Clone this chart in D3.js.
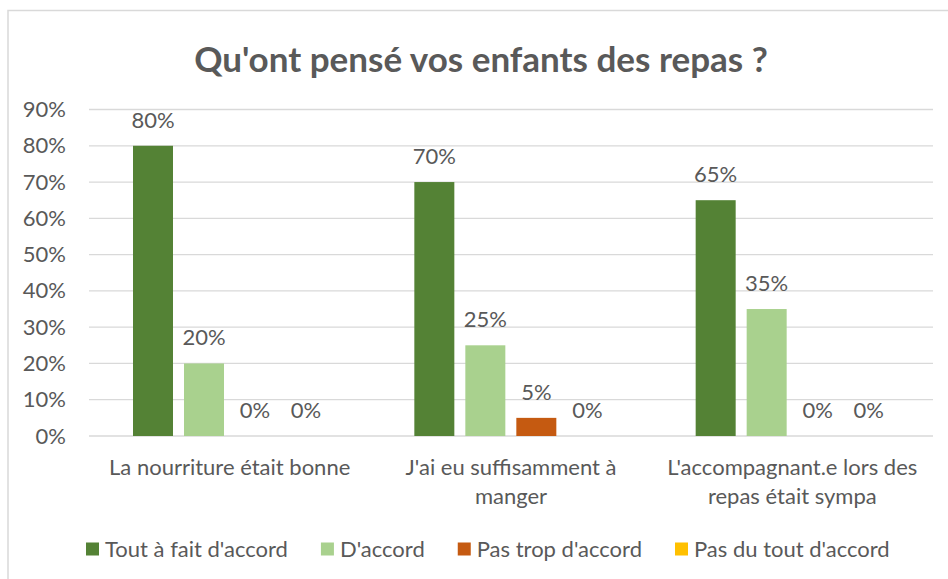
<!DOCTYPE html>
<html lang="fr">
<head>
	<meta charset="UTF-8">
	<title>Repas</title>
	<script src="https://cdn.jsdelivr.net/npm/d3@7"></script>
	<style>
		body{ margin:0; background:white; }
		svg{ display:block; }
		text{ font-family: Lato, "Open Sans", sans-serif; fill:#595959; }
		.grid line{ stroke:#d9d9d9; stroke-width:1.3; }
		.title{ font-weight:bold; }
	</style>
</head>
<body>
	<svg width="948" height="579"></svg>
	<script>
		// donnees
		var categories = ["La nourriture était bonne", "J'ai eu suffisamment à\nmanger", "L'accompagnant.e lors des\nrepas était sympa"];
		var series = ["Tout à fait d'accord", "D'accord", "Pas trop d'accord", "Pas du tout d'accord"];
		var toutAFait = [0.80, 0.70, 0.65];
		var dAccord = [0.20, 0.25, 0.35];
		var pasTrop = [0.00, 0.05, 0.00];
		var pasDuTout = [0.00, 0.00, 0.00];
		var colors = ["#548235", "#a9d18e", "#c55a11", "#ffc000"];
		var yTicks = [0, 0.1, 0.2, 0.3, 0.4, 0.5, 0.6, 0.7, 0.8, 0.9];

		var values = [toutAFait, dAccord, pasTrop, pasDuTout];

		var svg = d3.select("svg");
		var plotLeft = 89, plotRight = 933, plotTop = 109.5, plotBottom = 436;
		var fs = "22px";

		// cadre
		svg.append("rect")
			.attr("x", 8).attr("y", 10.5)
			.attr("width", 1000).attr("height", 700)
			.attr("fill", "none")
			.attr("stroke", "#d9d9d9")
			.attr("stroke-width", 1.5);

		svg.append("text")
			.attr("class", "title")
			.attr("x", 481).attr("y", 72)
			.attr("text-anchor", "middle")
			.style("font-size", "35px")
			.text("Qu'ont pensé vos enfants des repas ?");

		var y = d3.scaleLinear().domain([0, 0.9]).range([plotBottom, plotTop]);
		var x0 = d3.scaleBand().domain(categories).range([plotLeft, plotRight]);
		var x1 = d3.scaleBand().domain(series).range([44, 237]).paddingInner(0.2157);

		var grid = svg.append("g").attr("class", "grid");
		grid.selectAll("line").data(yTicks).enter().append("line")
			.attr("x1", plotLeft).attr("x2", plotRight)
			.attr("y1", function(d){ return y(d); })
			.attr("y2", function(d){ return y(d); });

		var yAxis = d3.axisLeft(y).tickValues(yTicks).tickFormat(d3.format(".0%")).tickSize(0).tickPadding(0);
		var ga = svg.append("g").attr("transform", "translate(66,0)").call(yAxis);
		ga.select(".domain").remove();
		ga.selectAll("text").style("font-size", fs).attr("fill", "#595959").style("font-family", null);

		var groups = svg.selectAll("g.cat").data(categories).enter().append("g")
			.attr("class", "cat")
			.attr("transform", function(d){ return "translate(" + x0(d) + ",0)"; });

		groups.selectAll("rect").data(function(d, i){
			return series.map(function(s, j){ return {s:s, v:values[j][i], c:colors[j]}; });
		}).enter().append("rect")
			.attr("x", function(d){ return x1(d.s); })
			.attr("width", x1.bandwidth())
			.attr("y", function(d){ return y(d.v); })
			.attr("height", function(d){ return y(0) - y(d.v); })
			.attr("fill", function(d){ return d.c; });

		groups.selectAll("text.val").data(function(d, i){
			return series.map(function(s, j){ return {s:s, v:values[j][i]}; });
		}).enter().append("text")
			.attr("class", "val")
			.attr("x", function(d){ return x1(d.s) + x1.bandwidth() / 2; })
			.attr("y", function(d){ return y(d.v) - 18; })
			.attr("text-anchor", "middle")
			.style("font-size", fs)
			.text(function(d){ return d3.format(".0%")(d.v); });

		// etiquettes des categories
		groups.append("text")
			.attr("text-anchor", "middle")
			.style("font-size", fs)
			.each(function(d){
				var t = d3.select(this);
				d.split("\n").forEach(function(line, k){
					t.append("tspan")
						.attr("x", x0.bandwidth() / 2)
						.attr("y", 475 + k * 29)
						.text(line);
				});
			});

		// legende
		var lg = svg.append("g").attr("transform", "translate(86,549)");
		var lx = 0;
		series.forEach(function(s, j){
			var item = lg.append("g").attr("transform", "translate(" + lx + ",0)");
			item.append("rect")
				.attr("x", 0).attr("y", -6.5)
				.attr("width", 13).attr("height", 13)
				.attr("fill", colors[j]);
			var t = item.append("text")
				.attr("x", 19).attr("y", 7.5)
				.style("font-size", fs)
				.text(s);
			lx += 19 + t.node().getComputedTextLength() + 33;
		});
	</script>
</body>
</html>
